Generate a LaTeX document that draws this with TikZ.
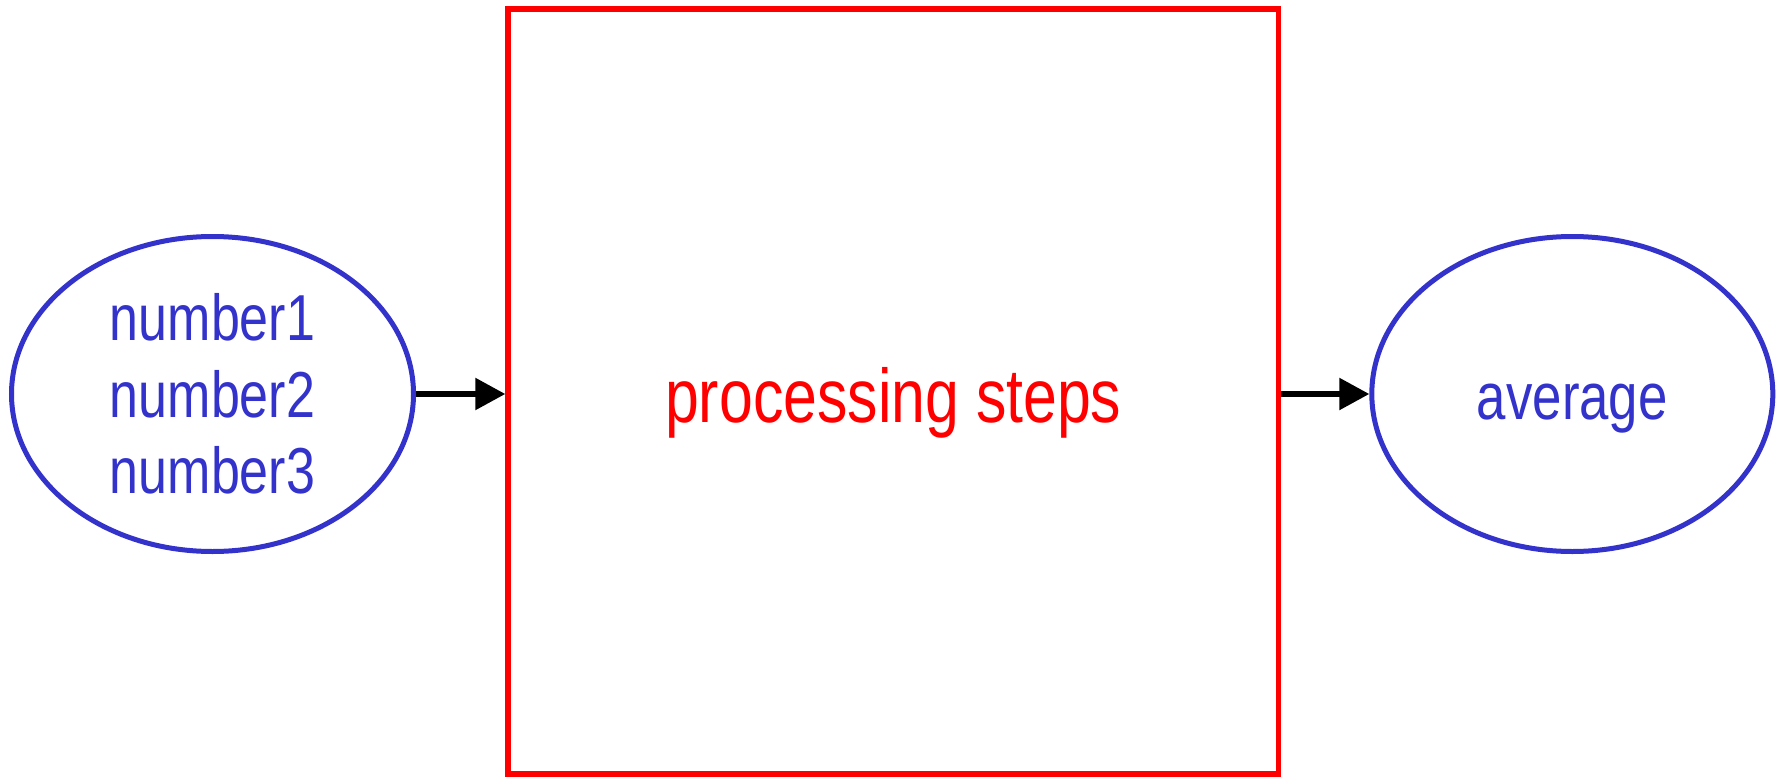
\documentclass[tikz,border=0pt]{standalone}
\usepackage{fontspec}
\setmainfont{Liberation Sans}[FakeStretch=0.8]
\usetikzlibrary{shapes.geometric,arrows.meta}
\definecolor{myblue}{RGB}{51,51,204}
\definecolor{myred}{RGB}{255,0,0}
\tikzset{
  dataell/.style={ellipse, draw=myblue, line width=5pt, text=myblue, inner sep=0pt, align=center},
  procbox/.style={rectangle, draw=myred, line width=5.5pt, text=myred, inner sep=0pt},
  flow/.style={line width=5.5pt, -{Triangle[length=30pt,width=31pt]}}
}
\begin{document}
\begin{tikzpicture}[x=1pt,y=-1pt]
\useasboundingbox (0,0) rectangle (1782,776);
\node[dataell, minimum width=402pt, minimum height=315pt,
      font=\fontsize{65}{76.7}\selectfont] (in) at (212.5,394) {number1\\number2\\number3};
\node[procbox, minimum width=770.5pt, minimum height=765pt,
      text height=72pt, text depth=11pt,
      font=\fontsize{76}{90}\selectfont] (proc) at (893.3,391.5) {processing steps};
\node[dataell, minimum width=401pt, minimum height=315pt,
      text height=60pt, text depth=10pt,
      font=\fontsize{66}{80}\selectfont] (out) at (1572.3,394) {average};
\draw[flow] (in.east) -- (proc.west |- in.east);
\draw[flow] (proc.east |- out.west) -- (out.west);
\end{tikzpicture}
\end{document}
